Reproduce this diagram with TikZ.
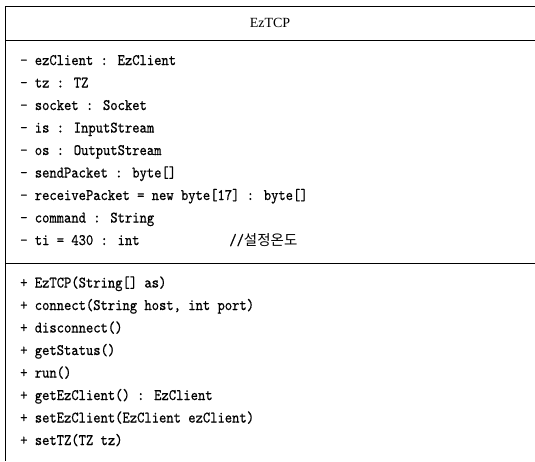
\documentclass[tikz,border=0pt]{standalone}
\usepackage{fontspec}
\setmainfont{Liberation Serif}
\newfontfamily\umlmono[FakeStretch=0.87,FakeBold=0.6]{lmmono10-regular.otf}
\newfontfamily\umlko{Noto Sans CJK KR}

\tikzset{
  member/.style={anchor=base west, inner sep=0pt, font=\umlmono\fontsize{16}{18}\selectfont},
  classname/.style={inner sep=0pt, font=\fontsize{14}{16}\selectfont},
  border/.style={line width=0.9pt}
}

\begin{document}
\begin{tikzpicture}[x=1pt,y=-1pt]
    \useasboundingbox (0,0) rectangle (535,461);

    % class box, open on the right
    \draw[border] (535,6) -- (5,6) -- (5,461);
    \draw[border] (5,40) -- (535,40);
    \draw[border] (5,263) -- (535,263);

    \node[classname] (name) at (270,23) {EzTCP};

    % attributes
    \node[member] (a1) at (20,65) {- ezClient : EzClient};
    \node[member] (a2) at (20,87.5) {- tz : TZ};
    \node[member] (a3) at (20,110) {- socket : Socket};
    \node[member] (a4) at (20,132.5) {- is : InputStream};
    \node[member] (a5) at (20,155) {- os : OutputStream};
    \node[member] (a6) at (20,177.5) {- sendPacket : byte[]};
    \node[member] (a7) at (20,200) {- receivePacket = new byte[17] : byte[]};
    \node[member] (a8) at (20,222.5) {- command : String};
    \node[member] (a9) at (20,245) {- ti = 430 : int\hspace*{82.5pt} //{\umlko\fontsize{14.5}{16}\selectfont 설정온도}};

    % operations
    \node[member] (m1) at (20,287.5) {+ EzTCP(String[] as)};
    \node[member] (m2) at (20,310) {+ connect(String host, int port)};
    \node[member] (m3) at (20,332.5) {+ disconnect()};
    \node[member] (m4) at (20,355) {+ getStatus()};
    \node[member] (m5) at (20,377.5) {+ run()};
    \node[member] (m6) at (20,400) {+ getEzClient() : EzClient};
    \node[member] (m7) at (20,422.5) {+ setEzClient(EzClient ezClient)};
    \node[member] (m8) at (20,445) {+ setTZ(TZ tz)};
\end{tikzpicture}
\end{document}
